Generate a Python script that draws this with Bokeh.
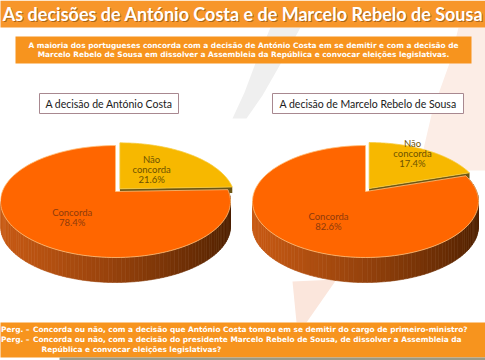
import numpy as np
from bokeh.plotting import figure
from bokeh.models import Range1d
from bokeh.core.properties import value
from bokeh.embed import file_html
from bokeh.resources import INLINE

# ---------------- data ----------------
main_title = "As decisões de António Costa e de Marcelo Rebelo de Sousa"
subtitle_lines = [
    "A maioria dos portugueses concorda com a decisão de António Costa em se demitir e com a decisão de",
    "Marcelo Rebelo de Sousa em dissolver a Assembleia da República e convocar eleições legislativas.",
]
categories = ["Não concorda", "Concorda"]
costa_values = [21.6, 78.4]
marcelo_values = [17.4, 82.6]
chart_titles = ["A decisão de António Costa", "A decisão de Marcelo Rebelo de Sousa"]
question_prefix = "Perg. –"
question_1 = "Concorda ou não, com a decisão que António Costa tomou em se demitir do cargo de primeiro-ministro?"
question_2 = ["Concorda ou não, com a decisão do presidente Marcelo Rebelo de Sousa, de dissolver a Assembleia da",
              "República e convocar eleições legislativas?"]

# ---------------- style ----------------
ORANGE_BAR = "#F7962A"
ORANGE_BOX = "#F7941E"
C_TOP = {"Não concorda": "#F7B800", "Concorda": "#FF6600"}
LBL_COL = {"Não concorda": "#6E5200", "Concorda": "#8E3A0C"}

W, H = 485, 360
p = figure(width=W, height=H, x_range=Range1d(0, W), y_range=Range1d(H, 0),
           output_backend="svg", toolbar_location=None, min_border=0,
           x_axis_location=None, y_axis_location=None)
p.grid.visible = False
p.outline_line_color = None
p.background_fill_color = "white"

# faint background watermark swooshes
p.patch([270, 300, 282, 262, 246, 232, 244, 256],
        [27, 27, 60, 95, 118, 118, 92, 60], color="#EFEFEF", line_color=None)
p.patch([458, 486, 486, 470, 418, 432, 450],
        [27, 27, 170, 170, 170, 110, 60], color="#FCEDE6", line_color=None)
p.patch([292, 336, 306, 296], [281, 279, 322, 322], color="#FBE6DC", line_color=None)

# title bar
p.quad(left=-5, right=490, top=0, bottom=27, color=ORANGE_BAR, line_color=None)
p.text(x=[243.5], y=[14.5], text=[main_title], text_font=value("Lato"), text_font_style="bold",
       text_font_size="18px", text_color="#6a3a08", text_alpha=0.55,
       text_align="center", text_baseline="middle")
p.text(x=[242.5], y=[13.5], text=[main_title], text_font=value("Lato"), text_font_style="bold",
       text_font_size="18px", text_color="white", text_align="center", text_baseline="middle")

# subtitle box
p.quad(left=15, right=471, top=36, bottom=63, color=ORANGE_BOX, line_color=None)
p.text(x=[243, 243], y=[44.5, 54], text=subtitle_lines, text_font=value("DejaVu Sans"),
       text_font_style="bold", text_font_size="7.4px", text_color="white",
       text_align="center", text_baseline="middle")

# bottom question band
p.quad(left=-5, right=490, top=322, bottom=357, color=ORANGE_BOX, line_color=None)
p.quad(left=59, right=490, top=357, bottom=361, color="#9C9A84", line_color=None)
p.text(x=[29, 29], y=[328.5, 338.5], text=[question_prefix, question_prefix],
       text_font=value("DejaVu Sans"), text_font_style="bold", text_font_size="7.4px",
       text_color="white", text_align="right", text_baseline="middle")
p.text(x=[32.5, 32.5, 41], y=[328.5, 338.5, 348.5], text=[question_1] + question_2,
       text_font=value("DejaVu Sans"), text_font_style="bold", text_font_size="7.4px",
       text_color="white", text_align="left", text_baseline="middle")


def lerp_color(c1, c2, t):
    a = np.array([int(c1[i:i + 2], 16) for i in (1, 3, 5)])
    b = np.array([int(c2[i:i + 2], 16) for i in (1, 3, 5)])
    c = (a + (b - a) * t).round().astype(int)
    return "#%02x%02x%02x" % tuple(c)


def draw_pie(vals, cx, cy, rx, ry, depth, apex_dy, label_frac, title, box):
    total = float(sum(vals))
    bounds = np.concatenate([[0.0], np.cumsum(vals) / total * 2 * np.pi])
    apex = (cx, cy - apex_dy)

    def rim(t, dx=0.0, dy=0.0):
        return cx + rx * np.sin(t) + dx, cy - ry * np.cos(t) + dy

    # explode offset for the first slice
    mid0 = (bounds[0] + bounds[1]) / 2
    e = 7.0
    ex, ey = e * np.sin(mid0), -e * np.cos(mid0) * ry / rx

    # cut face of exploded slice (dark)
    x1, y1 = rim(bounds[1], ex, ey)
    p.patch([apex[0] + ex, x1, x1, apex[0] + ex],
            [apex[1] + ey, y1, y1 + 6, apex[1] + ey + 6], color="#6B5514", line_color=None)

    # side of the big slice (front, gradient)
    ts = np.linspace(bounds[1], 1.5 * np.pi, 90)
    xs, ys, cols = [], [], []
    for a, b in zip(ts[:-1], ts[1:]):
        xa, ya = rim(a)
        xb, yb = rim(b)
        xs.append([xa, xb, xb, xa])
        ys.append([ya, yb, yb + depth, ya + depth])
        tt = np.clip((cx + rx - (xa + xb) / 2) / (2 * rx), 0, 1)  # 0 at right, 1 at left
        cols.append(lerp_color("#4E2000", "#C85A14", tt ** 0.8))
    p.patches(xs, ys, fill_color=cols, line_color=cols, line_width=0.6)

    # top faces
    for i, cat in enumerate(categories):
        t = np.linspace(bounds[i], bounds[i + 1], 120)
        dx, dy = (ex, ey) if i == 0 else (0.0, 0.0)
        rxs, rys = rim(t, dx, dy)
        px = np.concatenate([[apex[0] + dx], rxs])
        py = np.concatenate([[apex[1] + dy], rys])
        p.patch(px, py, fill_color=C_TOP[cat],
                line_color="#FFC07A" if i else "#F5CC40", line_width=0.8)

    # labels (one text per line, centred on the label point)
    for i, cat in enumerate(categories):
        m = (bounds[i] + bounds[i + 1]) / 2
        f = label_frac[i]
        lx = apex[0] + f * rx * np.sin(m)
        ly = apex[1] - f * ry * np.cos(m)
        lines = cat.split(" ") + [f"{vals[i]:.1f}%"]
        n = len(lines)
        lys = [ly + (k - (n - 1) / 2) * 10 for k in range(n)]
        p.text(x=[lx] * n, y=lys, text=lines, text_font=value("Lato"),
               text_font_size="9.5px", text_color=LBL_COL[cat], text_align="center",
               text_baseline="middle")

    # chart title box
    l, r, t0, b0 = box
    p.quad(left=l, right=r, top=t0, bottom=b0, fill_color="white",
           line_color="#A88890", line_width=1)
    p.text(x=[(l + r) / 2], y=[(t0 + b0) / 2 + 0.5], text=[title], text_font=value("Lato"),
           text_font_size="10.5px", text_color="#202020", text_align="center",
           text_baseline="middle")


draw_pie(costa_values, 115, 201, 115, 56, 25, 10, [0.5, 0.6], chart_titles[0], (39, 178, 93, 113))
draw_pie(marcelo_values, 365, 201, 113, 56, 25, 10, [0.8, 0.63], chart_titles[1], (272, 463, 93, 113))

open("out.html", "w").write(file_html(p, INLINE))
